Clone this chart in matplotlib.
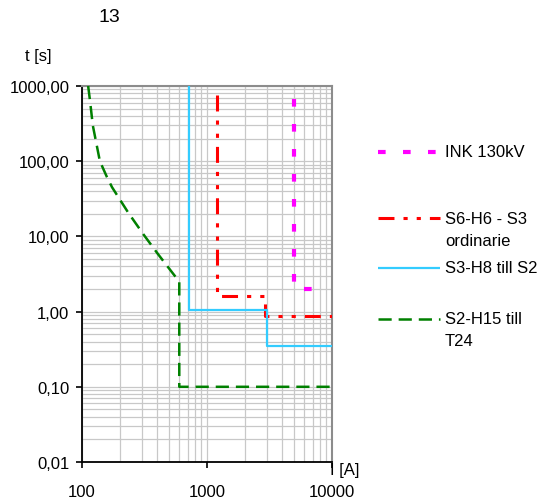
import matplotlib
matplotlib.use("Agg")
import matplotlib.pyplot as plt
from matplotlib.lines import Line2D
from matplotlib.ticker import FixedLocator, FixedFormatter, LogLocator, NullFormatter

plt.rcParams['font.family'] = ['Liberation Sans', 'DejaVu Sans']
plt.rcParams['lines.scale_dashes'] = False

# Data
ink_I = [5000, 5000, 8700]
ink_t = [670, 2.0, 2.0]

s6_I = [1200, 1200, 2900, 2900, 10000]
s6_t = [750, 1.6, 1.6, 0.87, 0.87]

s3_I = [720, 720, 3000, 3000, 10000]
s3_t = [1000, 1.05, 1.05, 0.35, 0.35]

s2_I = [112, 116, 122, 139, 158, 174, 233, 308, 406, 600, 600, 10000]
s2_t = [1000, 630, 300, 100, 62, 45, 21, 10.8, 5.8, 2.5, 0.1, 0.1]

labels = ["INK 130kV", "S6-H6 - S3\nordinarie", "S3-H8 till S2", "S2-H15 till\nT24"]
yticks = [0.01, 0.1, 1, 10, 100, 1000]
ytick_labels = ["0,01", "0,10", "1,00", "10,00", "100,00", "1000,00"]
xticks = [100, 1000, 10000]
xtick_labels = ["100", "1000", "10000"]

W, H = 543, 502
fig = plt.figure(figsize=(W / 100, H / 100), dpi=100)
ax = fig.add_axes([82 / W, 1 - 463 / H, 250 / W, 376 / H])

styles = [
    dict(color="#FF00FF", lw=3.0, dashes=(5.5, 12.5)),
    dict(color="#FF0000", lw=2.2, dashes=(11.5, 6.5, 3, 6.5, 3, 6.5)),
    dict(color="#33CCFF", lw=1.6, linestyle="-"),
    dict(color="#008000", lw=1.8, dashes=(9.5, 5)),
]
series = [(ink_I, ink_t), (s6_I, s6_t), (s3_I, s3_t), (s2_I, s2_t)]
for (xs, ys), st in zip(series, styles):
    ax.plot(xs, ys, solid_capstyle="butt", dash_capstyle="butt", zorder=3, **st)

ax.set_xscale("log")
ax.set_yscale("log")
ax.set_xlim(100, 10000)
ax.set_ylim(0.01, 1000)

ax.xaxis.set_major_locator(FixedLocator(xticks))
ax.xaxis.set_major_formatter(FixedFormatter(xtick_labels))
ax.yaxis.set_major_locator(FixedLocator(yticks))
ax.yaxis.set_major_formatter(FixedFormatter(ytick_labels))
ax.xaxis.set_minor_locator(LogLocator(base=10, subs=range(2, 10)))
ax.yaxis.set_minor_locator(LogLocator(base=10, subs=range(2, 10)))
ax.xaxis.set_minor_formatter(NullFormatter())
ax.yaxis.set_minor_formatter(NullFormatter())

ax.grid(True, which="both", color="#C8C8C8", lw=0.9, zorder=0)
ax.set_axisbelow(True)
ax.tick_params(which="major", direction="out", length=4, width=1.2, labelsize=12, color="black")
ax.tick_params(axis="x", which="major", pad=12)
ax.tick_params(axis="y", which="major", pad=5)
ax.tick_params(which="minor", length=0)

for side in ("left", "bottom"):
    ax.spines[side].set_color("black")
    ax.spines[side].set_linewidth(1.3)
for side in ("top", "right"):
    ax.spines[side].set_color("#8C8C8C")
    ax.spines[side].set_linewidth(1.5)

# Title and axis labels
fig.text(109 / W, 1 - 17 / H, "13", fontsize=14, ha="center", va="center")
fig.text(25 / W, 1 - 57 / H, "t [s]", fontsize=12, ha="left", va="center")
fig.text(330 / W, 1 - 471 / H, "I [A]", fontsize=12, ha="left", va="center")

# Legend (manual)
leg_y = [153, 219, 269, 320]
for y, lab, st in zip(leg_y, labels, styles):
    yf = 1 - y / H
    ln = Line2D([378 / W, 440 / W], [yf, yf], transform=fig.transFigure,
                solid_capstyle="butt", dash_capstyle="butt", **st)
    fig.add_artist(ln)
    lines = lab.split("\n")
    for i, l in enumerate(lines):
        fig.text(445 / W, 1 - (y + i * 22) / H, l, fontsize=12, ha="left", va="center")

fig.savefig("out.png", dpi=100)
